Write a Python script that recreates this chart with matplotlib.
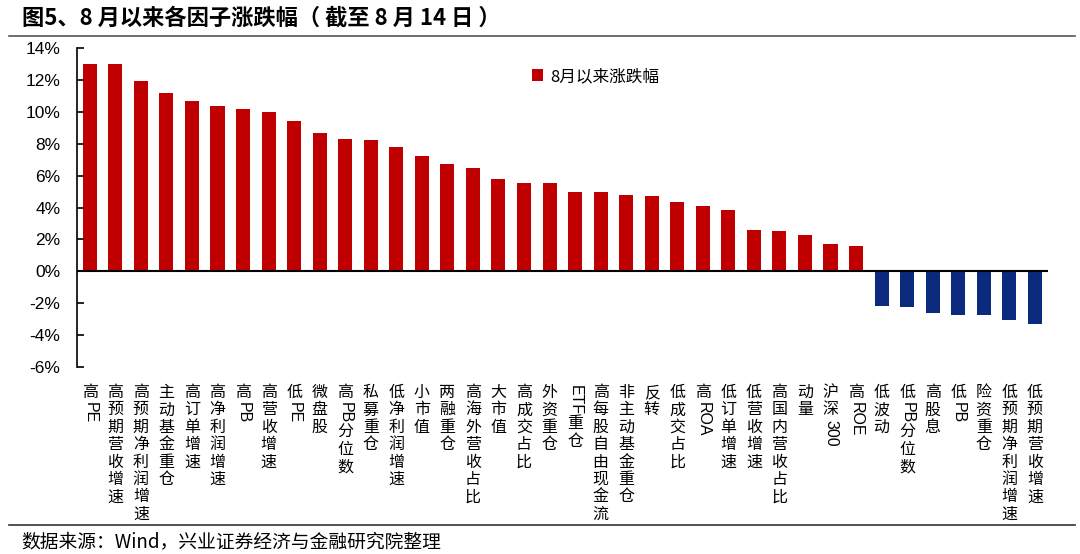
import re

import matplotlib.pyplot as plt
from matplotlib.font_manager import FontProperties
from matplotlib.textpath import TextPath

plt.rcParams['font.family'] = ['Liberation Sans', 'Noto Sans CJK SC']

factors = [
    "高PE", "高预期营收增速", "高预期净利润增速", "主动基金重仓", "高订单增速",
    "高净利润增速", "高PB", "高营收增速", "低PE", "微盘股", "高PB 分位数",
    "私募重仓", "低净利润增速", "小市值", "两融重仓", "高海外营收占比", "大市值",
    "高成交占比", "外资重仓", "ETF 重仓", "高每股自由现金流", "非主动基金重仓",
    "反转", "低成交占比", "高ROA", "低订单增速", "低营收增速", "高国内营收占比",
    "动量", "沪深300", "高ROE", "低波动", "低PB 分位数", "高股息", "低PB",
    "险资重仓", "低预期净利润增速", "低预期营收增速",
]
changes = [
    13.0, 13.0, 11.95, 11.2, 10.7, 10.35, 10.2, 10.0, 9.45, 8.65, 8.3,
    8.25, 7.8, 7.2, 6.7, 6.45, 5.8, 5.55, 5.55, 5.0, 4.95, 4.8,
    4.75, 4.35, 4.1, 3.85, 2.6, 2.5, 2.3, 1.7, 1.6, -2.15, -2.25,
    -2.6, -2.75, -2.75, -3.05, -3.3,
]
y_ticks = [-6, -4, -2, 0, 2, 4, 6, 8, 10, 12, 14]

RED = "#C00000"
BLUE = "#0B2A7E"
LABEL_FS = 11.5
STEP_PX = 17.4

fig = plt.figure(figsize=(10.8, 5.54), dpi=100)
ax = fig.add_axes([0.0713, 0.3375, 0.8987, 0.5759])

x = list(range(len(factors)))
colors = [RED if v >= 0 else BLUE for v in changes]
bars = ax.bar(x, changes, width=0.55, color=colors)
ax.axhline(0, color="black", linewidth=1.5, zorder=3)

ax.set_xlim(-0.5, len(factors) - 0.5)
ax.set_ylim(-6, 14)
ax.set_yticks(y_ticks)
ax.set_yticklabels([f"{t}%" for t in y_ticks], fontsize=12.5)
ax.tick_params(axis="y", direction="in", length=5, width=1.2, pad=12)
ax.set_xticks([])
for s in ["top", "right", "bottom"]:
    ax.spines[s].set_visible(False)
ax.spines["left"].set_linewidth(1.2)

ax.legend([bars[0]], ["8月以来涨跌幅"], loc="upper left",
          bbox_to_anchor=(0.453, 0.985), frameon=False,
          handlelength=0.7, handleheight=0.7, handletextpad=0.4,
          prop={"family": ["Noto Sans CJK SC"], "size": 12})

# vertical category labels: CJK upright, latin runs rotated
prop = FontProperties(family="Liberation Sans", size=LABEL_FS)
px = 72.0 / fig.dpi
for i, name in enumerate(factors):
    cursor = 17.0
    for seg in re.findall(r"[A-Za-z0-9 ]+|.", name):
        if re.match(r"[A-Za-z0-9 ]", seg):
            seg_w = TextPath((0, 0), seg, prop=prop).get_extents().width / px
            seg = seg.rstrip()
            ax.annotate(seg, xy=(i, 0), xycoords=("data", "axes fraction"),
                        xytext=(0, -(cursor + 1) * px), textcoords="offset points",
                        rotation=-90, ha="center", va="top", fontsize=LABEL_FS,
                        family="Liberation Sans")
            cursor += seg_w + 3
        else:
            ax.annotate(seg, xy=(i, 0), xycoords=("data", "axes fraction"),
                        xytext=(0, -cursor * px), textcoords="offset points",
                        ha="center", va="top", fontsize=LABEL_FS,
                        family=["Noto Sans CJK SC"])
            cursor += STEP_PX

fig.text(0.02, 0.967, "图5、8 月以来各因子涨跌幅（ 截至 8 月 14 日 ）",
         fontsize=16, fontweight="bold", va="center",
         family=["Noto Sans CJK SC"])
fig.add_artist(plt.Line2D([0.008, 0.995], [0.935, 0.935], color="#555555",
                          linewidth=1.2))
fig.add_artist(plt.Line2D([0.008, 0.995], [0.052, 0.052], color="#333333",
                          linewidth=1.2))
fig.text(0.02, 0.022, "数据来源：Wind，兴业证券经济与金融研究院整理",
         fontsize=13.5, va="center", family=["Noto Sans CJK SC"])

fig.savefig("out.png", dpi=100)
